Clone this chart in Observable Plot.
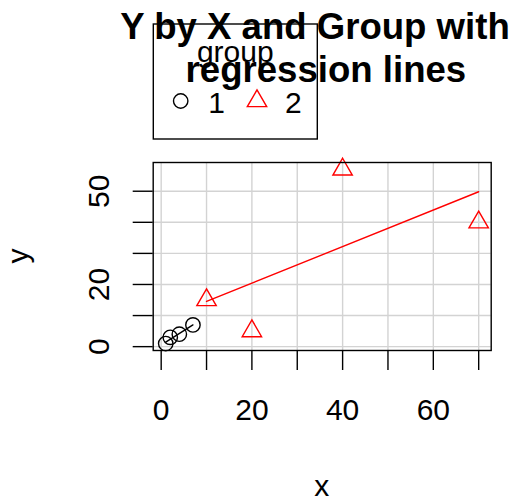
<!DOCTYPE html>
<html>
<head>
<meta charset="utf-8">
<script src="https://cdn.jsdelivr.net/npm/d3@7"></script>
<script src="https://cdn.jsdelivr.net/npm/@observablehq/plot@0.6"></script>
<style>
  html, body { margin: 0; padding: 0; background: white; }
  #chart { width: 517px; height: 502px; }
</style>
</head>
<body>
<div id="chart"></div>
<script>
// ---- data ----
const groups = ["1", "2"];
const group1X = [1, 2, 4, 7];
const group1Y = [1, 3, 4, 7];
const group2X = [10, 20, 40, 70];
const group2Y = [15, 5, 57, 40];
const groupColors = ["black", "red"];
const groupSymbols = ["circle", "triangle"];
const xTicks = [0, 10, 20, 30, 40, 50, 60, 70];
const xLabels = [0, 20, 40, 60];
const yTicks = [0, 10, 20, 30, 40, 50];
const yLabels = [0, 20, 50];
const titleLines = ["Y by X and Group with", "regression lines"];
const xTitle = "x";
const yTitle = "y";
const legendTitle = "group";

const data = [
  ...group1X.map((x, i) => ({x, y: group1Y[i], group: "1"})),
  ...group2X.map((x, i) => ({x, y: group2Y[i], group: "2"}))
];

// R-style 4% padding of the data range
const pad = ([a, b]) => [a - 0.04 * (b - a), b + 0.04 * (b - a)];
const xDomain = pad(d3.extent(data, d => d.x));
const yDomain = pad(d3.extent(data, d => d.y));

const W = 517, H = 502;
const mL = 152.7, mR = 26.3, mT = 162, mB = 152;
const FONT = "Liberation Sans, Arial, Helvetica, sans-serif";
const LW = 1.4;
const R = 7.2;

const plot = Plot.plot({
  width: W,
  height: H,
  marginLeft: mL,
  marginRight: mR,
  marginTop: mT,
  marginBottom: mB,
  style: {fontFamily: FONT, fontSize: "30px", color: "black", background: "white"},
  x: {domain: xDomain},
  y: {domain: yDomain},
  color: {type: "ordinal", domain: groups, range: groupColors},
  symbol: {domain: groups, range: groupSymbols},
  marks: [
    Plot.gridX(xTicks, {stroke: "#d3d3d3", strokeOpacity: 1, strokeWidth: LW}),
    Plot.gridY(yTicks, {stroke: "#d3d3d3", strokeOpacity: 1, strokeWidth: LW}),
    Plot.axisX({ticks: xTicks, tickSize: 20, tickPadding: 28, strokeWidth: LW, fontSize: 30,
      tickFormat: d => xLabels.includes(d) ? String(d) : "", label: null}),
    Plot.axisY({ticks: yTicks, tickSize: 20, tickPadding: 24, tickRotate: -90, strokeWidth: LW, fontSize: 30,
      tickFormat: d => yLabels.includes(d) ? String(d) : "", label: null}),
    Plot.linearRegressionY(data, {x: "x", y: "y", z: "group", stroke: "group", ci: 0, strokeWidth: LW}),
    Plot.dot(data, {x: "x", y: "y", stroke: "group", symbol: "group", r: R, strokeWidth: LW, fill: "none"}),
    Plot.frame({stroke: "black", strokeWidth: LW})
  ]
});

document.getElementById("chart").appendChild(plot);

// ---- titles and legend (R-style layout) ----
const svg = d3.select(plot);
const overlay = svg.append("g").attr("font-family", FONT).attr("fill", "black");

const cx = mL + (W - mL - mR) / 2;
const cy = mT + (H - mT - mB) / 2;

// main title (bold, two lines)
overlay.append("text")
  .attr("x", cx - 6.7).attr("y", 39.3)
  .attr("text-anchor", "middle").attr("font-size", 36.6).attr("font-weight", "bold")
  .text(titleLines[0]);
overlay.append("text")
  .attr("x", cx + 4.2).attr("y", 82)
  .attr("text-anchor", "middle").attr("font-size", 36.6).attr("font-weight", "bold")
  .text(titleLines[1]);

// axis titles
overlay.append("text")
  .attr("x", cx).attr("y", 496)
  .attr("text-anchor", "middle").attr("font-size", 30)
  .text(xTitle);
overlay.append("text")
  .attr("transform", `translate(28.3,${cy}) rotate(-90)`)
  .attr("text-anchor", "middle").attr("font-size", 30)
  .text(yTitle);

// legend
const legend = overlay.append("g");
legend.append("rect")
  .attr("x", 153.3).attr("y", 24).attr("width", 164).attr("height", 115)
  .attr("fill", "none").attr("stroke", "black").attr("stroke-width", LW);
legend.append("text")
  .attr("x", 235.3).attr("y", 61.7)
  .attr("text-anchor", "middle").attr("font-size", 30)
  .text(legendTitle);
const symX = [180.7, 257];
const labX = [216.5, 293.3];
groups.forEach((g, i) => {
  const sym = groupSymbols[i] === "circle" ? d3.symbolCircle : d3.symbolTriangle;
  legend.append("path")
    .attr("transform", `translate(${symX[i]},101)`)
    .attr("d", d3.symbol(sym, Math.PI * R * R)())
    .attr("fill", "none").attr("stroke", groupColors[i]).attr("stroke-width", LW);
  legend.append("text")
    .attr("x", labX[i]).attr("y", 112.7)
    .attr("text-anchor", "middle").attr("font-size", 30)
    .text(g);
});
</script>
</body>
</html>
